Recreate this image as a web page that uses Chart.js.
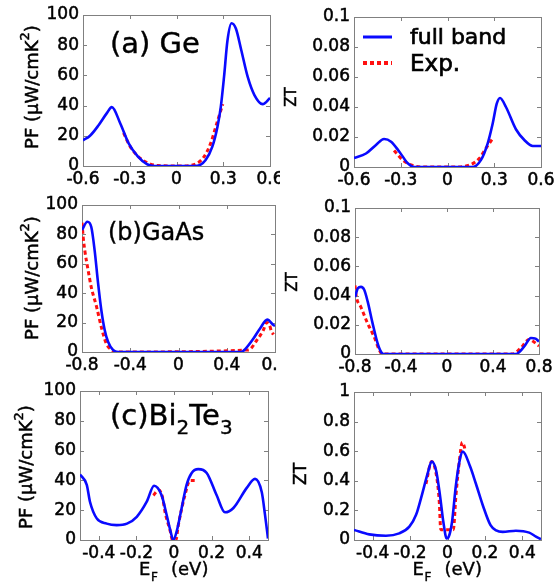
<!DOCTYPE html>
<html lang="en">
<head>
  <meta charset="UTF-8">
  <title>PF and ZT vs Fermi level</title>
  <script src="https://cdn.jsdelivr.net/npm/chart.js"></script>
  <style>
    body {
      margin: 0;
      background: #fff;
      width: 556px;
      height: 583px;
      position: relative;
      overflow: hidden;
    }
    canvas {
      position: absolute;
    }
  </style>
</head>
<body>
  <canvas id="gePF"></canvas>
  <canvas id="geZT"></canvas>
  <canvas id="gaasPF"></canvas>
  <canvas id="gaasZT"></canvas>
  <canvas id="bitePF"></canvas>
  <canvas id="biteZT"></canvas>
  <script>
    // ---- tick values / labels ----
    const geTicks = [-0.6, -0.3, 0, 0.3, 0.6];
    const geTickLabels = ['-0.6', '-0.3', '0', '0.3', '0.6'];
    const gaasTicks = [-0.8, -0.4, 0, 0.4, 0.8];
    const gaasTickLabels = ['-0.8', '-0.4', '0', '0.4', '0.8'];
    const biteTicks = [-0.4, -0.2, 0, 0.2, 0.4];
    const biteTickLabels = ['-0.4', '-0.2', '0', '0.2', '0.4'];
    const pfTicks = [0, 20, 40, 60, 80, 100];
    const pfTickLabels = ['0', '20', '40', '60', '80', '100'];
    const ztSmallTicks = [0, 0.02, 0.04, 0.06, 0.08, 0.1];
    const ztSmallTickLabels = ['0', '0.02', '0.04', '0.06', '0.08', '0.1'];
    const ztBigTicks = [0, 0.2, 0.4, 0.6, 0.8, 1];
    const ztBigTickLabels = ['0', '0.2', '0.4', '0.6', '0.8', '1'];

    // ---- (a) Ge ----
    const gePfBandE = [-0.6, -0.555, -0.5, -0.447, -0.415, -0.36, -0.307, -0.25, -0.19, -0.14, 0, 0.133, 0.187, 0.23, 0.263, 0.284, 0.305, 0.327, 0.353, 0.381, 0.415, 0.457, 0.5, 0.553, 0.6];
    const gePfBand = [17, 20, 27, 35, 39, 28, 15, 6.6, 1.3, 0, 0, 0.2, 4, 12.8, 26, 39, 59, 83, 94.5, 91, 77, 59, 47, 41, 45];
    const gePfExpE = [-0.34, -0.297, -0.232, -0.168, -0.12, 0.026, 0.111, 0.176, 0.219, 0.258, 0.297];
    const gePfExp = [22, 12.8, 5, 1.3, 0.3, 0, 0.9, 6, 15, 28, 41];
    const geZtBandE = [-0.6, -0.523, -0.459, -0.407, -0.362, -0.309, -0.255, -0.213, 0, 0.162, 0.215, 0.258, 0.29, 0.316, 0.337, 0.375, 0.44, 0.493, 0.547, 0.6];
    const geZtBand = [0.006, 0.009, 0.0147, 0.0187, 0.0169, 0.0102, 0.0025, 0, 0, 0, 0.0047, 0.0158, 0.029, 0.0422, 0.046, 0.040, 0.025, 0.018, 0.014, 0.014];
    const geZtExpE = [-0.343, -0.288, -0.224, -0.16, 0.035, 0.141, 0.205, 0.247, 0.286];
    const geZtExp = [0.011, 0.0047, 0.001, 0, 0, 0.0013, 0.0058, 0.0125, 0.0184];

    // ---- (b) GaAs ----
    const gaasPfBandE = [-0.8, -0.756, -0.723, -0.695, -0.667, -0.64, -0.612, -0.584, -0.543, -0.5, 0, 0.52, 0.551, 0.62, 0.676, 0.736, 0.786, 0.8];
    const gaasPfBand = [83, 88.6, 85, 69, 47, 28.6, 15, 7, 1.4, 0, 0, 0, 1.8, 9, 16, 22, 18.4, 17.7];
    const gaasPfExpE = [-0.8, -0.79, -0.775, -0.75, -0.723, -0.68, -0.64, -0.6, -0.557, -0.53, 0.58, 0.649, 0.704, 0.73, 0.76, 0.77, 0.79];
    const gaasPfExp = [88, 78, 68, 56, 44, 31, 17, 6, 1.4, 0, 1.4, 8, 15, 20, 17, 13.8, 12];
    const gaasZtBandE = [-0.8, -0.775, -0.748, -0.72, -0.69, -0.647, -0.604, -0.57, -0.55, 0, 0.6, 0.67, 0.73, 0.77, 0.8];
    const gaasZtBand = [0.039, 0.045, 0.046, 0.044, 0.036, 0.021, 0.0075, 0.001, 0, 0, 0, 0.005, 0.011, 0.0105, 0.0085];
    const gaasZtExpE = [-0.8, -0.79, -0.748, -0.69, -0.635, -0.59, -0.565, 0.57, 0.64, 0.715, 0.76, 0.8];
    const gaasZtExp = [0.047, 0.04, 0.032, 0.021, 0.012, 0.003, 0, 0, 0.004, 0.01, 0.008, 0.0055];

    // ---- (c) Bi2Te3 ----
    const bitePfBandE = [-0.5, -0.464, -0.447, -0.411, -0.358, -0.305, -0.25, -0.198, -0.145, -0.106, -0.066, -0.039, -0.018, -0.004, 0.014, 0.04, 0.067, 0.094, 0.129, 0.174, 0.227, 0.271, 0.316, 0.387, 0.431, 0.467, 0.484, 0.5];
    const bitePfBand = [44, 37, 25.7, 14.5, 11, 10, 11, 15.6, 25.7, 36.4, 30, 16.8, 5.6, 0, 5.6, 21, 37, 45, 47.6, 45, 30, 18.6, 21.5, 35, 41, 32, 17, 1];
    const bitePfExpE = [-0.11, -0.08, -0.06, -0.048, -0.02, -0.008, 0.01, 0.023, 0.058, 0.085, 0.11];
    const bitePfExp = [30, 33.6, 28, 19, 6, 0, 0, 10, 30, 40, 40];
    const biteZtBandE = [-0.5, -0.418, -0.329, -0.258, -0.204, -0.168, -0.14, -0.106, -0.085, -0.061, -0.04, -0.022, -0.004, 0.006, 0.024, 0.045, 0.067, 0.082, 0.12, 0.152, 0.19, 0.23, 0.26, 0.295, 0.366, 0.437, 0.473, 0.5];
    const biteZtBand = [0.068, 0.038, 0.029, 0.045, 0.09, 0.17, 0.29, 0.45, 0.53, 0.47, 0.30, 0.12, 0.01, 0.02, 0.12, 0.37, 0.55, 0.597, 0.5, 0.38, 0.23, 0.1, 0.065, 0.055, 0.063, 0.05, 0.023, 0.005];
    const biteZtExpE = [-0.115, -0.085, -0.061, -0.044, -0.036, 0.031, 0.045, 0.065, 0.079, 0.09, 0.095];
    const biteZtExp = [0.38, 0.53, 0.45, 0.26, 0.07, 0.07, 0.30, 0.55, 0.66, 0.63, 0.6];

    const FONT = 'DejaVu Sans';
    const BLUE = '#0a0aff';
    const RED = '#ff1010';

    function pts(xs, ys) {
      return xs.map((x, i) => ({ x: x, y: ys[i] }));
    }

    // draw a run of text pieces (for sub/superscripts), slightly emboldened
    function drawRun(ctx, parts, x, y, stroke) {
      parts.forEach(part => {
        ctx.font = part.size + 'px "' + FONT + '"';
        if (stroke) {
          ctx.lineWidth = stroke;
          ctx.strokeStyle = '#000';
          ctx.strokeText(part.text, x, y + (part.dy || 0));
        }
        ctx.fillText(part.text, x, y + (part.dy || 0));
        x += ctx.measureText(part.text).width;
      });
    }
    function runWidth(ctx, parts) {
      let w = 0;
      parts.forEach(part => {
        ctx.font = part.size + 'px "' + FONT + '"';
        w += ctx.measureText(part.text).width;
      });
      return w;
    }

    // panel frame, inward ticks, labels
    const framePlugin = {
      id: 'frame',
      beforeDatasetsDraw(chart) {
        const a = chart.chartArea;
        const ctx = chart.ctx;
        const xs = chart.scales.x, ys = chart.scales.y;
        ctx.save();
        ctx.strokeStyle = '#808080';
        ctx.lineWidth = 1;
        ctx.strokeRect(a.left + 0.5, a.top + 0.5, a.right - a.left, a.bottom - a.top);
        ctx.beginPath();
        xs.ticks.forEach(t => {
          const px = Math.round(xs.getPixelForValue(t.value)) + 0.5;
          ctx.moveTo(px, a.bottom); ctx.lineTo(px, a.bottom - 4);
          ctx.moveTo(px, a.top); ctx.lineTo(px, a.top + 4);
        });
        ys.ticks.forEach(t => {
          const py = Math.round(ys.getPixelForValue(t.value)) + 0.5;
          ctx.moveTo(a.left, py); ctx.lineTo(a.left + 4, py);
          ctx.moveTo(a.right, py); ctx.lineTo(a.right - 4, py);
        });
        ctx.stroke();
        ctx.restore();
      },
      afterDraw(chart) {
        const p = chart.options.plugins.frame;
        const ctx = chart.ctx;
        const a = chart.chartArea;
        ctx.save();
        ctx.fillStyle = '#000';
        ctx.textBaseline = 'alphabetic';
        ctx.textAlign = 'left';
        // y axis label (rotated)
        ctx.save();
        ctx.translate(p.yLabelX - p.x, p.yLabelY - p.y);
        ctx.rotate(-Math.PI / 2);
        const yw = runWidth(ctx, p.yLabel);
        ctx.textBaseline = 'middle';
        drawRun(ctx, p.yLabel, -yw / 2, 0, 0.5);
        ctx.restore();
        // x axis label E_F (eV)
        if (p.xLabel) {
          const cx = (a.left + a.right) / 2;
          const by = p.xLabelBase - p.y;
          drawRun(ctx, [{ text: 'E', size: 18 }], cx - 35, by, 0.4);
          drawRun(ctx, [{ text: 'F', size: 12 }], cx - 23, by + 6, 0.4);
          drawRun(ctx, [{ text: '(eV)', size: 18 }], cx - 3, by, 0.4);
        }
        // panel title
        if (p.title) {
          drawRun(ctx, p.title, p.titleX - p.x, p.titleBase - p.y, 0.4);
        }
        // legend
        if (p.legend) {
          const lx = 363 - p.x, rx = 392 - p.x;
          ctx.lineWidth = 3;
          ctx.strokeStyle = BLUE;
          ctx.beginPath(); ctx.moveTo(lx, 37 - p.y); ctx.lineTo(rx, 37 - p.y); ctx.stroke();
          ctx.lineWidth = 4;
          ctx.strokeStyle = RED;
          ctx.setLineDash([4, 3]);
          ctx.beginPath(); ctx.moveTo(lx, 63 - p.y); ctx.lineTo(rx, 63 - p.y); ctx.stroke();
          ctx.setLineDash([]);
          drawRun(ctx, [{ text: 'full band', size: 22 }], 410 - p.x, 44 - p.y, 0.7);
          drawRun(ctx, [{ text: 'Exp.', size: 23 }], 410 - p.x, 71 - p.y, 0.7);
        }
        ctx.restore();
      }
    };

    function makeChart(p) {
      const cv = document.getElementById(p.id);
      cv.width = p.w;
      cv.height = p.h;
      cv.style.left = p.x + 'px';
      cv.style.top = p.y + 'px';
      const [L, T, R, B] = p.area;
      const tickFont = { family: FONT, size: 17 };
      new Chart(cv, {
        type: 'line',
        data: {
          datasets: [
            {
              label: 'full band',
              data: pts(p.bandX, p.bandY),
              borderColor: BLUE,
              borderWidth: 2.6,
              pointRadius: 0,
              cubicInterpolationMode: 'monotone',
              fill: false
            },
            {
              label: 'Exp.',
              data: pts(p.expX, p.expY),
              borderColor: RED,
              borderWidth: 3,
              borderDash: [4, 3],
              pointRadius: 0,
              cubicInterpolationMode: 'monotone',
              fill: false
            }
          ]
        },
        options: {
          responsive: false,
          animation: false,
          events: [],
          layout: { padding: { left: 0, top: T - p.y, right: p.x + p.w - R, bottom: 0 } },
          plugins: {
            legend: { display: false },
            tooltip: { enabled: false },
            frame: p
          },
          scales: {
            x: {
              type: 'linear',
              min: p.xMin,
              max: p.xMax,
              grid: { display: false, drawTicks: false },
              border: { display: false },
              afterBuildTicks: s => { s.ticks = p.xTicks.map(v => ({ value: v })); },
              ticks: {
                autoSkip: false,
                maxRotation: 0,
                padding: 3,
                color: '#000',
                textStrokeColor: '#000',
                textStrokeWidth: 0.5,
                font: tickFont,
                callback: (v, i) => p.xTickLabels[i]
              },
              afterFit: s => { s.height = p.y + p.h - B; s.paddingLeft = 0; s.paddingRight = 0; }
            },
            y: {
              type: 'linear',
              min: p.yMin,
              max: p.yMax,
              grid: { display: false, drawTicks: false },
              border: { display: false },
              afterBuildTicks: s => { s.ticks = p.yTicks.map(v => ({ value: v })); },
              ticks: {
                autoSkip: false,
                padding: 4,
                color: '#000',
                textStrokeColor: '#000',
                textStrokeWidth: 0.5,
                font: tickFont,
                callback: (v, i) => p.yTickLabels[i]
              },
              afterFit: s => { s.width = L - p.x; s.paddingTop = 0; s.paddingBottom = 0; }
            }
          }
        },
        plugins: [framePlugin]
      });
    }

    const pfLabel = [
      { text: 'PF (\u03bcW/cmK', size: 18 },
      { text: '2', size: 13, dy: -7 },
      { text: ')', size: 18 }
    ];
    const ztLabel = size => [{ text: 'ZT', size: size }];

    makeChart({
      id: 'gePF', x: 0, y: 0, w: 280, h: 192, area: [83, 15, 270, 166],
      bandX: gePfBandE, bandY: gePfBand, expX: gePfExpE, expY: gePfExp,
      xMin: -0.6, xMax: 0.6, xTicks: geTicks, xTickLabels: geTickLabels,
      yMin: 0, yMax: 100, yTicks: pfTicks, yTickLabels: pfTickLabels,
      yLabel: pfLabel, yLabelX: 33, yLabelY: 87,
      title: [{ text: '(a) Ge', size: 29 }], titleX: 110, titleBase: 53
    });
    makeChart({
      id: 'geZT', x: 280, y: 0, w: 276, h: 192, area: [354, 17, 541, 167],
      bandX: geZtBandE, bandY: geZtBand, expX: geZtExpE, expY: geZtExp,
      xMin: -0.6, xMax: 0.6, xTicks: geTicks, xTickLabels: geTickLabels,
      yMin: 0, yMax: 0.1, yTicks: ztSmallTicks, yTickLabels: ztSmallTickLabels,
      yLabel: ztLabel(15), yLabelX: 292, yLabelY: 97,
      legend: true
    });
    makeChart({
      id: 'gaasPF', x: 0, y: 192, w: 278, h: 186, area: [82, 205, 275, 352],
      bandX: gaasPfBandE, bandY: gaasPfBand, expX: gaasPfExpE, expY: gaasPfExp,
      xMin: -0.8, xMax: 0.8, xTicks: gaasTicks, xTickLabels: gaasTickLabels,
      yMin: 0, yMax: 100, yTicks: pfTicks, yTickLabels: pfTickLabels,
      yLabel: pfLabel, yLabelX: 33, yLabelY: 278,
      title: [{ text: '(b)GaAs', size: 24 }], titleX: 108, titleBase: 240
    });
    makeChart({
      id: 'gaasZT', x: 280, y: 192, w: 276, h: 186, area: [355, 208, 539, 354],
      bandX: gaasZtBandE, bandY: gaasZtBand, expX: gaasZtExpE, expY: gaasZtExp,
      xMin: -0.8, xMax: 0.8, xTicks: gaasTicks, xTickLabels: gaasTickLabels,
      yMin: 0, yMax: 0.1, yTicks: ztSmallTicks, yTickLabels: ztSmallTickLabels,
      yLabel: ztLabel(15), yLabelX: 293, yLabelY: 282
    });
    makeChart({
      id: 'bitePF', x: 0, y: 378, w: 280, h: 205, area: [80, 391, 268, 540],
      bandX: bitePfBandE, bandY: bitePfBand, expX: bitePfExpE, expY: bitePfExp,
      xMin: -0.5, xMax: 0.5, xTicks: biteTicks, xTickLabels: biteTickLabels,
      yMin: 0, yMax: 100, yTicks: pfTicks, yTickLabels: pfTickLabels,
      yLabel: pfLabel, yLabelX: 27, yLabelY: 467,
      xLabel: true, xLabelBase: 575,
      title: [
        { text: '(c)Bi', size: 29 },
        { text: '2', size: 20, dy: 9 },
        { text: 'Te', size: 29 },
        { text: '3', size: 20, dy: 9 }
      ],
      titleX: 110, titleBase: 425
    });
    makeChart({
      id: 'biteZT', x: 280, y: 378, w: 276, h: 205, area: [354, 392, 541, 540],
      bandX: biteZtBandE, bandY: biteZtBand, expX: biteZtExpE, expY: biteZtExp,
      xMin: -0.5, xMax: 0.5, xTicks: biteTicks, xTickLabels: biteTickLabels,
      yMin: 0, yMax: 1, yTicks: ztBigTicks, yTickLabels: ztBigTickLabels,
      yLabel: ztLabel(17), yLabelX: 302, yLabelY: 474,
      xLabel: true, xLabelBase: 575
    });
  </script>
</body>
</html>
